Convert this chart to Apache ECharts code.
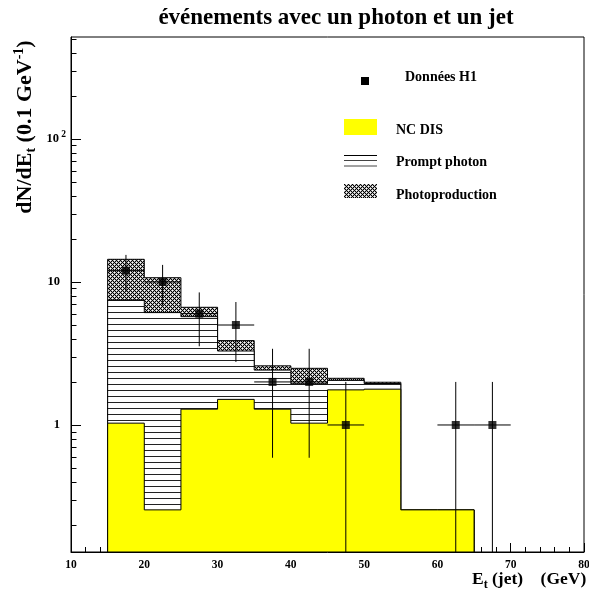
<!DOCTYPE html>
<html><head><meta charset="utf-8">
<script src="https://cdn.jsdelivr.net/npm/echarts@6/dist/echarts.min.js"></script>
<style>html,body{margin:0;padding:0;background:#fff}#c{width:589px;height:599px}</style>
</head><body><div id="c"></div>
<script>
// ---- data ----
const binEdges = [15, 20, 25, 30, 35, 40, 45, 50, 55, 60, 65];
const ncDis = [1.03, 0.255, 1.29, 1.51, 1.29, 1.03, 1.76, 1.78, 0.255, 0.255];
const promptPhoton = [6.45, 5.85, 4.43, 1.78, 1.13, 0.91, 0.29, 0.17, 0, 0];
const photoproduction = [6.92, 4.60, 0.93, 0.60, 0.17, 0.55, 0.07, 0.04, 0, 0];
const dataX = [17.5, 22.5, 27.5, 32.5, 37.5, 42.5, 47.5, 62.5, 67.5];
const dataY = [12, 10, 6, 5, 2, 2, 1, 1, 1];
const dataErrLow = [3.46, 3.16, 2.45, 2.24, 1.41, 1.41, 1, 1, 1];
const dataErrHigh = [3.46, 3.16, 2.45, 2.24, 1.41, 1.41, 1, 1, 1];
const dataXHalfWidth = [2.5, 2.5, 2.5, 2.5, 2.5, 2.5, 2.5, 2.5, 2.5];
const yMajorTicks = [1, 10, 100];
const yMinorTicks = [0.2, 0.3, 0.4, 0.5, 0.6, 0.7, 0.8, 0.9, 2, 3, 4, 5, 6, 7, 8, 9, 20, 30, 40, 50, 60, 70, 80, 90, 200, 300, 400, 500];
const xMin = 10, xMax = 80, xInterval = 10;
const yMin = 0.1294, yMax = 516;

// ---- patterns ----
function hatchPattern() {
  const c = document.createElement('canvas'); c.width = 8; c.height = 6;
  const g = c.getContext('2d');
  g.fillStyle = '#fff'; g.fillRect(0, 0, 8, 6);
  g.fillStyle = '#222'; g.fillRect(0, 0, 8, 1);
  return c;
}
function crossPattern() {
  const c = document.createElement('canvas'); c.width = 4; c.height = 4;
  const g = c.getContext('2d');
  g.fillStyle = '#fff'; g.fillRect(0, 0, 4, 4);
  for (let x = 0; x < 4; x++) for (let y = 0; y < 4; y++) {
    if ((x + y) % 4 === 0 || ((x - y) % 4 + 4) % 4 === 0) { g.fillStyle = '#000'; g.fillRect(x, y, 1, 1); }
    else if (!((x === 0 && y === 2) || (x === 2 && y === 0))) { g.fillStyle = '#b0b0b0'; g.fillRect(x, y, 1, 1); }
  }
  return c;
}
const hatchFill = { image: hatchPattern(), repeat: 'repeat' };
const crossFill = { image: crossPattern(), repeat: 'repeat' };

// cumulative layers
const cumNc = ncDis.slice();
const cumPrompt = ncDis.map((v, i) => v + promptPhoton[i]);
const cumTotal = cumPrompt.map((v, i) => v + photoproduction[i]);

function stepRender(tops, fill) {
  return function (params, api) {
    const pts = [];
    const b0 = api.coord([binEdges[0], yMin]);
    pts.push([b0[0], b0[1]]);
    for (let i = 0; i < tops.length; i++) {
      const a = api.coord([binEdges[i], tops[i]]);
      const b = api.coord([binEdges[i + 1], tops[i]]);
      pts.push([a[0], a[1]], [b[0], b[1]]);
    }
    const bl = api.coord([binEdges[binEdges.length - 1], yMin]);
    pts.push([bl[0], bl[1]]);
    return {
      type: 'polygon',
      shape: { points: pts },
      style: { fill: fill, stroke: '#000', lineWidth: 1 }
    };
  };
}

const errData = dataX.map((x, i) => [x, dataY[i], dataErrLow[i], dataErrHigh[i], dataXHalfWidth[i]]);

const serif = 'Liberation Serif';
const option = {
  animation: false,
  backgroundColor: '#fff',
  textStyle: { fontFamily: serif, fontWeight: 'bold', color: '#000' },
  title: {
    text: 'événements avec un photon et un jet',
    left: 331, top: 2, textAlign: 'center',
    textStyle: { fontFamily: serif, fontWeight: 'bold', fontSize: 23, color: '#000' }
  },
  grid: { left: 71, right: 5, top: 37, bottom: 47, outerBoundsMode: 'none', containLabel: false,
    show: true, borderColor: '#000', borderWidth: 1, backgroundColor: 'transparent' },
  xAxis: {
    type: 'value', min: xMin, max: xMax, interval: xInterval,
    axisLine: { lineStyle: { color: '#000', width: 1 } },
    axisTick: { inside: true, length: 9, lineStyle: { color: '#000' } },
    minorTick: { show: true, splitNumber: 5, length: 5, lineStyle: { color: '#000' } },
    splitLine: { show: false },
    axisLabel: { fontFamily: serif, fontWeight: 'bold', fontSize: 11.5, color: '#000', margin: 7 }
  },
  yAxis: {
    type: 'log', min: yMin, max: yMax, logBase: 10,
    axisLine: { show: true, lineStyle: { color: '#000', width: 1 } },
    axisTick: { show: false },
    splitLine: { show: false },
    axisLabel: {
      margin: 5,
      formatter: function (v) {
        const e = Math.log10(v), r = Math.round(e);
        if (Math.abs(e - r) > 1e-6 || r < 0) return '';
        if (r === 0) return '{a|1}{p| }';
        if (r === 1) return '{a|10}{p| }';
        return '{a|10}{s| ' + r + '}';
      },
      rich: {
        a: { fontFamily: serif, fontWeight: 'bold', fontSize: 12.5, color: '#000' },
        p: { width: 6, fontSize: 9.5 },
        s: { fontFamily: serif, fontWeight: 'bold', fontSize: 9.5, color: '#000', padding: [0, 0, 9, 0] }
      }
    }
  },
  graphic: [
    { type: 'rect', shape: { x: 361, y: 77, width: 8, height: 8 }, style: { fill: '#000' } },
    { type: 'text', x: 405, y: 77, style: { text: 'Données H1', font: 'bold 14px "Liberation Serif"', fill: '#000', verticalAlign: 'middle' } },
    { type: 'rect', shape: { x: 344, y: 119, width: 33, height: 16 }, style: { fill: '#ffff00' } },
    { type: 'text', x: 396, y: 130, style: { text: 'NC DIS', font: 'bold 14px "Liberation Serif"', fill: '#000', verticalAlign: 'middle' } },
    { type: 'line', shape: { x1: 344, y1: 155.5, x2: 377, y2: 155.5 }, style: { stroke: '#000', lineWidth: 1 } },
    { type: 'line', shape: { x1: 344, y1: 160.5, x2: 377, y2: 160.5 }, style: { stroke: '#444', lineWidth: 1 } },
    { type: 'line', shape: { x1: 344, y1: 166, x2: 377, y2: 166 }, style: { stroke: '#444', lineWidth: 1 } },
    { type: 'text', x: 396, y: 162, style: { text: 'Prompt photon', font: 'bold 14px "Liberation Serif"', fill: '#000', verticalAlign: 'middle' } },
    { type: 'rect', shape: { x: 344, y: 184, width: 33, height: 14 }, style: { fill: crossFill } },
    { type: 'text', x: 396, y: 195, style: { text: 'Photoproduction', font: 'bold 14px "Liberation Serif"', fill: '#000', verticalAlign: 'middle' } },
    { type: 'text', x: 472, y: 579, style: {
        text: '{b|E}{sub|t}{b| (jet)    (GeV)}', verticalAlign: 'middle',
        rich: {
          b: { fontFamily: serif, fontWeight: 'bold', fontSize: 17.5, fill: '#000' },
          sub: { fontFamily: serif, fontWeight: 'bold', fontSize: 12, fill: '#000', padding: [11, 0, 0, 0] }
        } } },
    { type: 'text', x: 25, y: 127, rotation: Math.PI / 2, style: {
        text: '{b|dN/dE}{sub|t}{b| (0.1 GeV}{sup|-1}{b|)}', align: 'center', verticalAlign: 'middle',
        rich: {
          b: { fontFamily: serif, fontWeight: 'bold', fontSize: 22, fill: '#000' },
          sub: { fontFamily: serif, fontWeight: 'bold', fontSize: 14, fill: '#000', padding: [12, 0, 0, 0] },
          sup: { fontFamily: serif, fontWeight: 'bold', fontSize: 14, fill: '#000', padding: [0, 0, 12, 0] }
        } } }
  ],
  series: [
    { type: 'custom', name: 'Photoproduction', clip: true, data: [[binEdges[0], 1]], renderItem: stepRender(cumTotal, crossFill), z: 1 },
    { type: 'custom', name: 'Prompt photon', clip: true, data: [[binEdges[0], 1]], renderItem: stepRender(cumPrompt, hatchFill), z: 2 },
    { type: 'custom', name: 'NC DIS', clip: true, data: [[binEdges[0], 1]], renderItem: stepRender(cumNc, '#ffff00'), z: 3 },
    { type: 'custom', name: 'yticks', clip: false, z: 4,
      data: yMajorTicks.map(v => [xMin, v, 10]).concat(yMinorTicks.map(v => [xMin, v, 5.5])),
      renderItem: function (params, api) {
        const p = api.coord([api.value(0), api.value(1)]);
        const y = Math.round(p[1]) + 0.5;
        return { type: 'line', shape: { x1: p[0], y1: y, x2: p[0] + api.value(2), y2: y }, style: { stroke: '#000', lineWidth: 1 } };
      } },
    { type: 'custom', name: 'errors', clip: true, z: 5, data: errData,
      renderItem: function (params, api) {
        const x = api.value(0), y = api.value(1), lo = api.value(2), hi = api.value(3), hw = api.value(4);
        const top = api.coord([x, y + hi]);
        const bot = api.coord([x, Math.max(y - lo, yMin)]);
        const l = api.coord([x - hw, y]);
        const r = api.coord([x + hw, y]);
        return { type: 'group', children: [
          { type: 'line', shape: { x1: top[0], y1: top[1], x2: bot[0], y2: bot[1] }, style: { stroke: '#000', lineWidth: 1 } },
          { type: 'line', shape: { x1: l[0], y1: l[1], x2: r[0], y2: r[1] }, style: { stroke: '#000', lineWidth: 1 } }
        ] };
      } },
    { type: 'scatter', name: 'Données H1', z: 6, symbol: 'rect', symbolSize: 8,
      itemStyle: { color: '#000' },
      data: dataX.map((x, i) => [x, dataY[i]]) }
  ]
};
const chart = echarts.init(document.getElementById('c'), null, { renderer: 'canvas' });
chart.setOption(option);
</script></body></html>
